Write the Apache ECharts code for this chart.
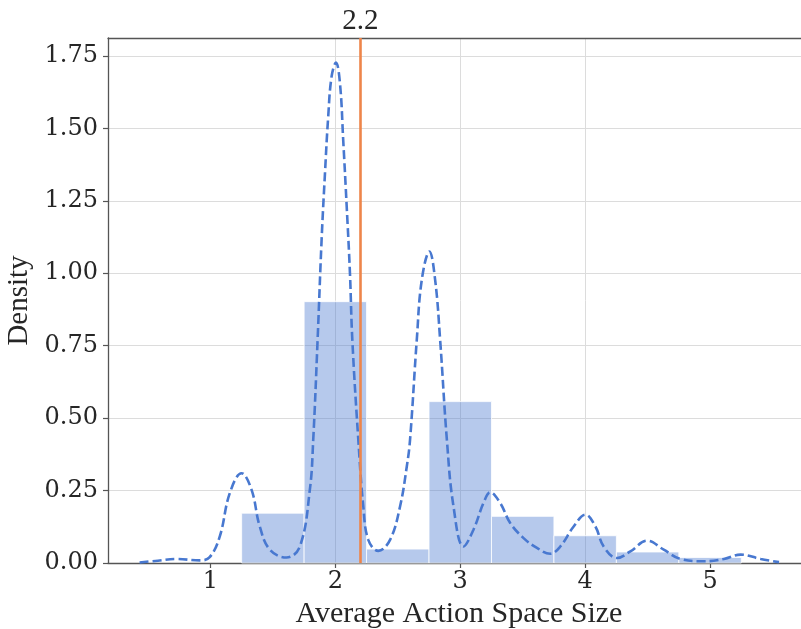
<!DOCTYPE html>
<html>
<head>
<meta charset="utf-8">
<script src="https://cdn.jsdelivr.net/npm/echarts@6/dist/echarts.min.js"></script>
<style>
html,body{margin:0;padding:0;background:#fff;overflow:hidden;width:801px;height:629px;}
#chart{width:830px;height:629px;}
</style>
</head>
<body>
<div id="chart"></div>
<script>
// Histogram bins (edges) and densities
var binEdges = [1.25, 1.75, 2.25, 2.75, 3.25, 3.75, 4.25, 4.75, 5.25];
var binDensity = [0.172, 0.902, 0.048, 0.557, 0.161, 0.094, 0.038, 0.019];

// KDE curve
var kdeX = [0.433, 0.58, 0.727, 0.914, 0.994, 1.075, 1.155, 1.249, 1.329, 1.395, 1.476, 1.609, 1.716, 1.796, 1.823, 1.858, 1.890, 1.917, 1.943, 1.970, 2.005, 2.037, 2.063, 2.091, 2.117, 2.136, 2.184, 2.224, 2.264, 2.344, 2.438, 2.518, 2.572, 2.598, 2.652, 2.692, 2.753, 2.799, 2.839, 2.893, 2.946, 3.026, 3.106, 3.186, 3.240, 3.320, 3.400, 3.507, 3.614, 3.721, 3.801, 3.908, 4.002, 4.082, 4.148, 4.256, 4.362, 4.496, 4.629, 4.763, 4.950, 5.111, 5.245, 5.405, 5.552];
var kdeY = [0.002, 0.008, 0.014, 0.009, 0.020, 0.092, 0.241, 0.310, 0.253, 0.126, 0.046, 0.019, 0.057, 0.253, 0.425, 0.770, 1.115, 1.345, 1.541, 1.679, 1.727, 1.656, 1.460, 1.230, 1.000, 0.770, 0.425, 0.195, 0.080, 0.042, 0.080, 0.195, 0.333, 0.425, 0.770, 0.977, 1.075, 0.977, 0.770, 0.425, 0.195, 0.057, 0.115, 0.207, 0.244, 0.207, 0.138, 0.086, 0.052, 0.032, 0.057, 0.126, 0.167, 0.126, 0.057, 0.017, 0.040, 0.077, 0.046, 0.014, 0.006, 0.014, 0.029, 0.014, 0.003];

var meanValue = 2.2;
var meanLabel = '2.2';
var xTicks = [1, 2, 3, 4, 5];
var xName = 'Average Action Space Size';
var yName = 'Density';

var histData = binDensity.map(function (d, i) { return [binEdges[i], binEdges[i + 1], d]; });
var kdeData = kdeX.map(function (x, i) { return [x, kdeY[i]]; });

var tickFont = 'DejaVu Serif';
var nameFont = 'Liberation Serif';
var textColor = '#262626';
var spineColor = '#555555';
var xMin = 0.18, xMax = 5.80;

var chart = echarts.init(document.getElementById('chart'), null, {renderer: 'canvas'});
chart.setOption({
  animation: false,
  backgroundColor: '#ffffff',
  grid: {left: 108, top: 38, right: 20, bottom: 66, show: false, containLabel: false, outerBoundsMode: 'none'},
  xAxis: [{
    type: 'value', min: xMin, max: xMax,
    name: xName, nameLocation: 'middle', nameGap: 26,
    nameTextStyle: {fontFamily: nameFont, fontSize: 30, color: textColor},
    axisLine: {show: true, onZero: false, lineStyle: {color: spineColor, width: 1.3}},
    axisTick: {show: true, length: 5, customValues: xTicks, lineStyle: {color: spineColor, width: 1.2}},
    axisLabel: {customValues: xTicks, margin: 7, fontFamily: tickFont, fontSize: 24, color: textColor,
      formatter: function (v) { return String(v); }},
    splitLine: {show: true, showMinLine: false, showMaxLine: false, lineStyle: {color: '#dcdcdc', width: 1}}
  }, {
    type: 'value', position: 'top', min: xMin, max: xMax,
    axisLine: {show: true, onZero: false, lineStyle: {color: spineColor, width: 1.3}},
    axisTick: {show: false}, axisLabel: {show: false}, splitLine: {show: false}
  }],
  yAxis: {
    type: 'value', min: 0, max: 1.812, interval: 0.25,
    name: yName, nameLocation: 'middle', nameGap: 68,
    nameTextStyle: {fontFamily: nameFont, fontSize: 29, color: textColor},
    axisLine: {show: true, onZero: false, lineStyle: {color: spineColor, width: 1.3}},
    axisTick: {show: true, length: 5, lineStyle: {color: spineColor, width: 1.2}},
    axisLabel: {margin: 10, fontFamily: tickFont, fontSize: 24, color: textColor, showMaxLabel: false,
      formatter: function (v) { return v.toFixed(2); }},
    splitLine: {show: true, showMaxLine: false, lineStyle: {color: '#dcdcdc', width: 1}}
  },
  series: [
    {
      type: 'custom',
      data: histData,
      encode: {x: [0, 1], y: 2},
      z: 2,
      renderItem: function (params, api) {
        var p0 = api.coord([api.value(0), api.value(2)]);
        var p1 = api.coord([api.value(1), 0]);
        return {
          type: 'rect',
          shape: {x: p0[0], y: p0[1], width: p1[0] - p0[0], height: p1[1] - p0[1]},
          style: {fill: 'rgba(72,120,208,0.4)', stroke: 'rgba(255,255,255,0.8)', lineWidth: 1}
        };
      }
    },
    {
      type: 'line',
      data: kdeData,
      showSymbol: false,
      smooth: 0.4,
      z: 3,
      lineStyle: {color: '#4878d0', width: 2.6, type: [9, 4]},
      markLine: {
        silent: true,
        symbol: ['none', 'none'],
        lineStyle: {color: '#ee854a', width: 2.6, type: 'solid'},
        label: {show: true, position: 'end', distance: 2, formatter: meanLabel, fontFamily: nameFont, fontSize: 29, color: textColor},
        data: [{xAxis: meanValue}]
      }
    }
  ]
});
</script>
</body>
</html>
